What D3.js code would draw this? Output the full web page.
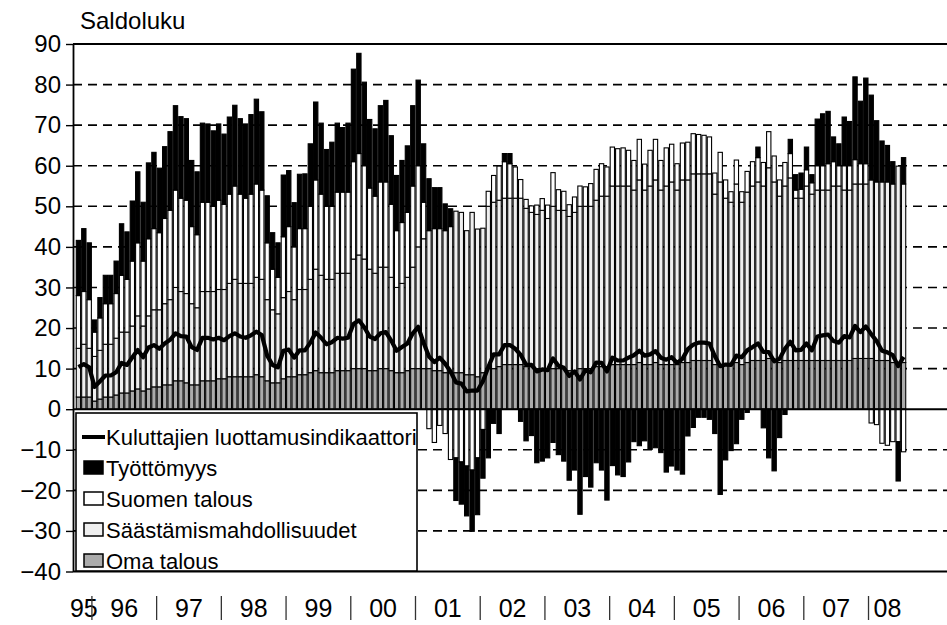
<!DOCTYPE html>
<html>
<head>
<meta charset="utf-8">
<script src="https://cdn.jsdelivr.net/npm/d3@7/dist/d3.min.js"></script>
<style>
  body { margin: 0; background: #fff; }
  svg text { font-family: "Liberation Sans", Arial, sans-serif; fill: #000; }
</style>
</head>
<body>
<div id="root"></div>
<script>
// monthly survey, Oct 1995 .. Jul 2008
var months = d3.range(154).map(function(i) {
  var m = 9 + i;
  return (1995 + Math.floor(m / 12)) + '-' + d3.format('02')(m % 12 + 1);
});
var yearLabels = ['95','96','97','98','99','00','01','02','03','04','05','06','07','08'];
var yTicks = [-40,-30,-20,-10,0,10,20,30,40,50,60,70,80,90];

var oma = [3,3,3,
  2,2.5,3,3,3.5,4,4,4.5,5,4.5,5,5.5,
  5.5,6,6,7,7,6.5,6,6,7,7,7,7.5,
  7.5,8,8,8,8,8,8.5,8,7,6.5,6.5,7.5,
  8,8,8.5,8.5,9,9.5,9,9,9,9.5,9.5,9.5,
  10,10,10,9.5,9.5,10,10,9.5,9,9,9.5,10,
  10,10,10,9.5,9.5,9,9,9,9,8.5,8.5,8,
  9,10,10,10.5,11,11,11,11,10.5,10.5,10,10,
  10,10,10,10,9.5,9.5,10,10,10,10.5,10.5,10.5,
  11,11,11,11,11,11.5,11,11,11.5,11,11,11,
  11,11.5,11.5,12,12,12,12,11,11,11,11,11.5,
  11,11.5,12,12,12,12.5,12,11.5,12,12,12,12,
  12,12,12,12,12,12,12,12,12,12.5,12.5,12.5,
  12.5,12,12,12,11.5,11.5,11.5];

var saasto = [12,13,12,
  11,12,13,13,14,15,15,16,18,16,18,19,
  19,20,21,23,22,22,20,19,22,22,22,22,
  22,23,24,23,23,23,24,24,20,18,17,20,
  21,19,21,21,23,25,24,23,23,24,24,24,
  27,28,27,25,24,25,25,23,21,22,23,25,
  30,32,34,35,35,35,36,39.8,39.5,35.5,40,36.4,
  35.6,40,41,41,41,41,41,41,39,38,38,39,
  37,40,39,39,38,39,40,40,40,41,42,42,
  44,44,44,44,43,45,43,44,45,43,44,45,
  43,45,45,46,46,46,46,42,45,41,40,44,
  40,42,43,44,43,47,44,41,43,45,40,40,
  43,41,42,42,42,43,43,42,42,43,43,43,
  44,44,44,44,44,48.4,44];

var suomi = [13,13,12,
  6,8,10,10,11,14,13,16,18,16,19,20,
  19,21,22,24,23,23,19,18,22,22,21,22,
  21,22,23,22,21,22,23,22,14,10,9,15,
  16,13,15,15,18,22,20,18,18,20,20,20,
  24,25,23,20,19,21,21,18,14,15,16,20,
  20,9,-4.8,-8.2,-4,-6,-12.4,-12,-13,-14,-15,-12,
  -5,3.7,6.6,8.4,9,8.5,7.7,4.6,2.2,1.6,2.3,2.9,
  3.3,8.3,5.1,4.7,2.9,3.8,5,4.8,5.6,7.6,8,7.2,
  9.6,9.2,9.4,8.8,7.3,10,6.4,8.8,10,7.3,9.4,9.3,
  6.5,9.1,9.3,9.9,9.7,9.5,9.1,5.2,7.3,4.5,2.6,5.9,
  2.6,5.1,6,6,5.8,8.9,6.4,4,5.8,6,2,2.2,
  4,2.8,6,6,6.5,6,5,6,6,6,5,5,
  -3.4,-3.8,-8.4,-8.9,-8,-8,-10.5];

var tyott = [13.6,15.5,14,
  3,5,7,7,8,12.7,11.7,14.8,17.5,14.5,18.7,18.8,
  15.9,17.7,19.4,20.8,20.1,20.1,16.3,15.5,19.5,19.3,18.6,18.8,
  17.3,19,19.9,18.6,18.3,19.6,20.9,19.3,11.6,9,8.5,15.2,
  13.8,10.9,13.4,13.5,15.4,19.2,17.5,14,15.8,17,15.9,17,
  22.8,24.7,20.6,16.9,16.6,18.8,20.1,16.9,13.6,15.3,16.4,19.8,
  21.1,14.4,12.8,10.1,10.1,6.6,4.4,-10.5,-10.4,-12.3,-15.1,-14,
  -12,-12,-3.5,-6,2,2.5,0,-3,-7.8,-6.5,-13.2,-12.8,
  -12,-8.2,-11.2,-12.8,-17.5,-15,-25.9,-16.6,-19.2,-13.2,-15,-22.4,
  -13.9,-16.2,-16.6,-13,-8,-9,-7.8,-9.9,-9.5,-10.7,-15.5,-14,
  -15,-16,-6.6,-4.5,-2,-2,-2.5,-6,-21,-12.5,-10.2,-8.5,
  -2.5,-0.8,0,2.6,-4.6,-12,-15.2,-7,-1.3,3.5,3.8,4,
  5.6,2,11.5,12.8,12.9,6.1,5.4,12,10.9,20.4,15.4,21.1,
  20.9,15.1,10.1,9,5.5,-9.7,6.5];

var luottamus = [10.4,11.1,10.3,
  5.5,6.9,8.3,8.3,9.1,11.4,10.9,12.8,14.6,12.8,15.2,15.8,
  14.9,16.2,17.1,18.7,18.0,17.9,15.3,14.6,17.6,17.6,17.2,17.6,
  17.0,18.0,18.7,17.9,17.6,18.2,19.1,18.3,13.2,10.9,10.3,14.4,
  14.7,12.7,14.5,14.5,16.4,18.9,17.6,16.0,16.5,17.6,17.4,17.6,
  21.0,21.9,20.2,17.9,17.3,18.7,19.0,16.9,14.4,15.3,16.2,18.7,
  20.3,16.4,13.0,11.6,12.7,11.2,9.3,6.6,6.3,4.4,4.6,4.6,
  6.9,10.4,13.5,13.5,15.8,15.8,14.9,13.4,11.0,10.9,9.3,9.8,
  9.6,12.5,10.7,10.2,8.2,9.3,7.3,9.6,9.1,11.5,11.4,9.3,
  12.7,12.0,12.0,12.7,13.3,14.4,13.2,13.5,14.3,12.7,12.2,12.8,
  11.4,12.4,14.8,15.9,16.4,16.4,16.2,13.1,10.6,11.0,10.9,13.2,
  12.8,14.5,15.3,16.2,14.1,14.1,11.8,12.4,14.9,16.6,14.5,14.6,
  16.2,14.5,17.9,18.2,18.4,16.8,16.4,18.0,17.7,20.5,19.0,20.4,
  18.5,16.8,14.4,14.0,13.3,10.6,12.9];

var keys = ['oma', 'saasto', 'suomi', 'tyott'];
var names = {
  oma: 'Oma talous',
  saasto: 'Säästämismahdollisuudet',
  suomi: 'Suomen talous',
  tyott: 'Työttömyys'
};
var fills = { oma: '#ababab', saasto: '#efefef', suomi: '#ffffff', tyott: '#000000' };

var width = 947;
var height = 625;
var left = 73, right = 947;

var rows = months.map(function(m, i) {
  return { month: m, oma: oma[i], saasto: saasto[i], suomi: suomi[i], tyott: tyott[i] };
});

var svg = d3.select('#root')
  .append('svg')
    .attr('width', width)
    .attr('height', height);

var x = d3.scaleBand()
  .domain(months)
  .range([76, 906])
  .paddingInner(0.2)
  .paddingOuter(0.05);

var y = d3.scaleLinear()
  .domain([-40, 90])
  .range([571.5, 44]);

// dashed grid behind the bars
svg.append('g')
  .selectAll('line')
  .data(yTicks.filter(function(d) { return d !== 0 && d !== 90 && d !== -40; }))
  .enter().append('line')
    .attr('x1', left).attr('x2', right)
    .attr('y1', function(d) { return y(d); })
    .attr('y2', function(d) { return y(d); })
    .attr('stroke', '#000')
    .attr('stroke-width', 1.6)
    .attr('stroke-dasharray', '9,6');

// stacked bars
var series = d3.stack()
  .keys(keys)
  .offset(d3.stackOffsetDiverging)(rows);

svg.append('g')
  .selectAll('g')
  .data(series)
  .enter().append('g')
    .attr('fill', function(s) { return fills[s.key]; })
  .selectAll('rect')
  .data(function(s) { return s.filter(function(d) { return d[1] !== d[0]; }); })
  .enter().append('rect')
    .attr('x', function(d) { return x(d.data.month); })
    .attr('width', x.bandwidth())
    .attr('y', function(d) { return y(d[1]); })
    .attr('height', function(d) { return y(d[0]) - y(d[1]); })
    .attr('stroke', '#000')
    .attr('stroke-width', 1.1);

// frame
svg.append('line')
  .attr('x1', left).attr('x2', right)
  .attr('y1', y(0)).attr('y2', y(0))
  .attr('stroke', '#000').attr('stroke-width', 2);
svg.append('line')
  .attr('x1', left).attr('x2', right)
  .attr('y1', y(90)).attr('y2', y(90))
  .attr('stroke', '#000').attr('stroke-width', 1.8);
svg.append('line')
  .attr('x1', left).attr('x2', right)
  .attr('y1', y(-40)).attr('y2', y(-40))
  .attr('stroke', '#000').attr('stroke-width', 1.8);

// confidence indicator line
var line = d3.line()
  .x(function(d, i) { return x(months[i]) + x.bandwidth() / 2; })
  .y(function(d) { return y(d); });

svg.append('path')
  .datum(luottamus)
  .attr('d', line)
  .attr('fill', 'none')
  .attr('stroke', '#000')
  .attr('stroke-width', 4.2)
  .attr('stroke-linejoin', 'round');

// y axis
var yAxis = svg.append('g')
  .attr('transform', 'translate(' + left + ',0)')
  .call(d3.axisLeft(y).tickValues(yTicks).tickSize(7).tickPadding(5).tickSizeOuter(0));
yAxis.select('.domain').attr('stroke-width', 1.8);
yAxis.selectAll('.tick line').attr('stroke-width', 1.4);
yAxis.selectAll('text')
  .style('font-size', '24px')
  .style('font-family', '"Liberation Sans", Arial, sans-serif');

svg.append('text')
  .attr('x', 80)
  .attr('y', 29)
  .style('font-size', '24px')
  .text('Saldoluku');

// legend
var lg = svg.append('g');
lg.append('rect')
  .attr('x', 76).attr('y', 413)
  .attr('width', 341).attr('height', 158)
  .attr('fill', '#fff')
  .attr('stroke', '#000')
  .attr('stroke-width', 1.6);

var legendItems = ['line', 'tyott', 'suomi', 'saasto', 'oma'];
var rowY = d3.scalePoint().domain(legendItems).range([437, 561]);

legendItems.forEach(function(k) {
  var cy = rowY(k);
  if (k === 'line') {
    lg.append('line')
      .attr('x1', 82).attr('x2', 105)
      .attr('y1', cy).attr('y2', cy)
      .attr('stroke', '#000').attr('stroke-width', 4);
  } else {
    lg.append('rect')
      .attr('x', 84).attr('y', cy - 7)
      .attr('width', 19).attr('height', 13)
      .attr('fill', fills[k])
      .attr('stroke', '#000')
      .attr('stroke-width', 1.5);
  }
  lg.append('text')
    .attr('x', 106)
    .attr('y', cy + 8)
    .style('font-size', '22px')
    .text(k === 'line' ? 'Kuluttajien luottamusindikaattori' : names[k]);
});

// year labels and separators below
var years = yearLabels.map(function(lab) {
  var idx = months.map(function(m, i) { return i; })
    .filter(function(i) { return months[i].slice(2, 4) === lab; });
  return { label: lab, first: idx[0], last: idx[idx.length - 1] };
});

svg.append('g')
  .selectAll('text')
  .data(years)
  .enter().append('text')
    .attr('x', function(d) {
      return (x(months[d.first]) + x(months[d.last]) + x.bandwidth()) / 2;
    })
    .attr('y', 617)
    .attr('text-anchor', 'middle')
    .style('font-size', '25px')
    .text(function(d) { return d.label; });

svg.append('g')
  .selectAll('line')
  .data(years.slice(1))
  .enter().append('line')
    .attr('x1', function(d) { return x(months[d.first]) - x.step() * 0.1; })
    .attr('x2', function(d) { return x(months[d.first]) - x.step() * 0.1; })
    .attr('y1', 596).attr('y2', 620)
    .attr('stroke', '#333')
    .attr('stroke-width', 1.3);
</script>
</body>
</html>
